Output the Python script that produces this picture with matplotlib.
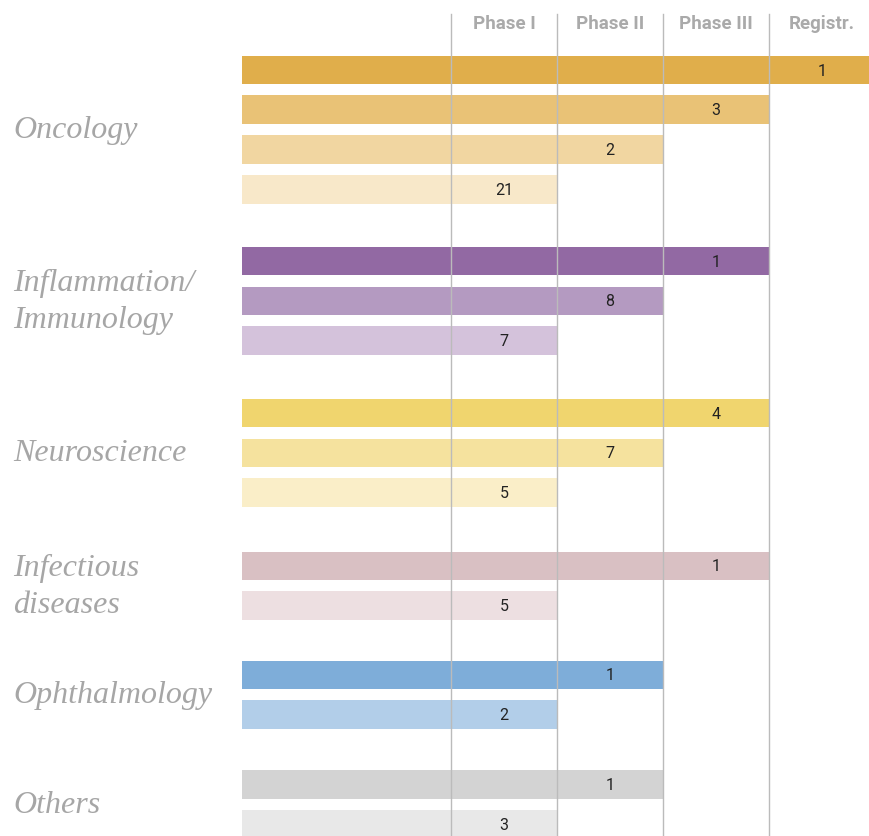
import matplotlib
matplotlib.use("Agg")
import matplotlib.pyplot as plt

# ---- data ----
stages = ["Phase I", "Phase II", "Phase III", "Registr."]
categories = ["Oncology", "Inflammation/\nImmunology", "Neuroscience",
              "Infectious\ndiseases", "Ophthalmology", "Others"]
# each group's bars, top to bottom: (stage index 0..3, count)
onc_stage = [3, 2, 1, 0]
onc_vals = [1, 3, 2, 21]
inf_stage = [2, 1, 0]
inf_vals = [1, 8, 7]
neu_stage = [2, 1, 0]
neu_vals = [4, 7, 5]
ifd_stage = [2, 0]
ifd_vals = [1, 5]
oph_stage = [1, 0]
oph_vals = [1, 2]
oth_stage = [1, 0]
oth_vals = [1, 3]

onc_colors = ["#E0AE4B", "#E9C276", "#F1D6A1", "#F8E8C9"]
inf_colors = ["#9269A3", "#B49AC1", "#D4C2DB"]
neu_colors = ["#F0D56E", "#F5E29E", "#FAEEC8"]
ifd_colors = ["#D9C0C3", "#EDDFE1"]
oph_colors = ["#7EADD9", "#B2CEE9"]
oth_colors = ["#D3D3D3", "#E8E8E8"]

groups = [
    (onc_stage, onc_vals, onc_colors),
    (inf_stage, inf_vals, inf_colors),
    (neu_stage, neu_vals, neu_colors),
    (ifd_stage, ifd_vals, ifd_colors),
    (oph_stage, oph_vals, oph_colors),
    (oth_stage, oth_vals, oth_colors),
]
group_gaps = [0.80, 0.82, 0.84, 0.74, 0.76, 0.0]

W, H = 870, 837
fig = plt.figure(figsize=(W / 100, H / 100), dpi=100)
ax = fig.add_axes([242 / W, 0, 628 / W, 1])

col = 106.0
xmin = -209 / col
xmax = xmin + 628 / col
pitch = 39.8
y0px = 71
ax.set_xlim(xmin, xmax)
ax.set_ylim((H - y0px) / pitch, -y0px / pitch)
ax.axis("off")

y = 0.0
centers = []
for gi, (st, vals, cols) in enumerate(groups):
    ys = []
    for s, v, c in zip(st, vals, cols):
        end = s + 1
        ax.barh(y, end - xmin, left=xmin, height=0.72, color=c, zorder=1)
        ax.text(end - 0.5, y, str(v), ha="center", va="center",
                fontsize=11.5, color="#222222", family="Roboto", zorder=3)
        ys.append(y)
        y += 1
    centers.append(sum(ys) / len(ys))
    y += group_gaps[gi]

# grid lines (drawn over bars)
top_y = -(y0px - 15) / pitch
for g in range(4):
    ax.plot([g, g], [top_y, (H - y0px) / pitch + 1], color="#BBBBBB",
            lw=1.0, zorder=2, clip_on=False)

# headers
for i, s in enumerate(stages):
    ax.text(i + 0.5, -(y0px - 24) / pitch, s, ha="center", va="center",
            fontsize=13.5, fontweight="bold", color="#AAAAAA", family="Roboto")

# category labels
for cy, name in zip(centers, categories):
    fig.text(13 / W, 1 - (y0px + cy * pitch) / H, name, ha="left", va="center",
             fontsize=23, style="italic", color="#A6A6A6",
             family="Liberation Serif", linespacing=1.38)

fig.savefig("out.png", dpi=100)
